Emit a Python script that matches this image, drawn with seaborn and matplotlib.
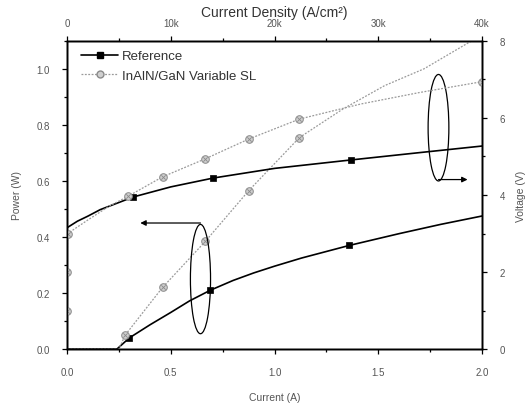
import matplotlib
matplotlib.use("Agg")
import matplotlib.pyplot as plt
import matplotlib.ticker as ticker
from matplotlib.patches import Ellipse
from matplotlib.lines import Line2D
import seaborn as sns

# Reference device, power (W) vs current (A)
ref_power_i = [0.0, 0.24, 0.30, 0.40, 0.50, 0.59, 0.69, 0.80, 0.90, 1.00, 1.13, 1.36, 1.60, 1.80, 2.00]
ref_power_w = [0.0, 0.0, 0.04, 0.087, 0.131, 0.172, 0.21, 0.245, 0.272, 0.296, 0.325, 0.37, 0.412, 0.445, 0.475]
ref_power_mark_i = [0.30, 0.69, 1.36]
ref_power_mark_w = [0.04, 0.21, 0.37]

# Reference device, voltage (V) vs current (A)
ref_volt_i = [0.0, 0.0, 0.05, 0.10, 0.16, 0.32, 0.50, 0.705, 1.00, 1.37, 1.70, 2.00]
ref_volt_v = [0.0, 3.15, 3.32, 3.45, 3.62, 3.95, 4.21, 4.44, 4.69, 4.91, 5.10, 5.27]
ref_volt_mark_i = [0.32, 0.705, 1.37]
ref_volt_mark_v = [3.95, 4.44, 4.91]

# InAlN/GaN variable SL, power
sl_power_i = [0.0, 0.25, 0.28, 0.46, 0.667, 0.875, 1.12, 1.33, 1.53, 1.72, 1.95]
sl_power_w = [0.0, 0.0, 0.05, 0.22, 0.385, 0.565, 0.755, 0.857, 0.94, 1.0, 1.10]
sl_power_mark_i = [0.28, 0.46, 0.667, 0.875, 1.12]
sl_power_mark_w = [0.05, 0.22, 0.385, 0.565, 0.755]

# InAlN/GaN variable SL, voltage
sl_volt_i = [0.0, 0.0, 0.0, 0.003, 0.10, 0.20, 0.295, 0.46, 0.667, 0.875, 1.12, 1.415, 1.70, 2.00]
sl_volt_v = [0.0, 0.99, 2.0, 3.0, 3.35, 3.70, 3.97, 4.47, 4.94, 5.45, 5.97, 6.36, 6.66, 6.94]
sl_volt_mark_i = [0.0, 0.0, 0.003, 0.295, 0.46, 0.667, 0.875, 1.12, 2.00]
sl_volt_mark_v = [0.99, 2.0, 3.0, 3.97, 4.47, 4.94, 5.45, 5.97, 6.94]

density_ticks = [0, 10000, 20000, 30000, 40000]

sns.set_style("ticks")
plt.rcParams["font.family"] = ["Liberation Sans", "DejaVu Sans"]
plt.rcParams.update({
    "xtick.direction": "out",
    "ytick.direction": "out",
    "xtick.major.size": 3.5,
    "ytick.major.size": 3.5,
    "xtick.minor.size": 2.0,
    "ytick.minor.size": 2.0,
    "axes.linewidth": 1.0,
})

TICK_COLOR = "#555555"
SL_LINE = "#9a9a9a"
SL_FACE = "#cfcfcf"
SL_EDGE = "#8a8a8a"

fig = plt.figure(figsize=(5.28, 4.10), dpi=100)
ax = fig.add_axes([0.127, 0.146, 0.786, 0.752])
ax2 = ax.twinx()
ax3 = ax.twiny()


def draw_series(axis, xs, ys, mx, my, ref):
    if ref:
        sns.lineplot(x=xs, y=ys, ax=axis, color="black", linewidth=1.2,
                     sort=False, estimator=None)
        sns.scatterplot(x=mx, y=my, ax=axis, marker="s", color="black",
                        s=24, edgecolor="black", linewidth=0.5, zorder=4)
    else:
        sns.lineplot(x=xs, y=ys, ax=axis, color=SL_LINE, linewidth=0.9,
                     linestyle=(0, (1.5, 1.2)), sort=False, estimator=None)
        sns.scatterplot(x=mx, y=my, ax=axis, marker="o", color=SL_FACE,
                        s=30, edgecolor=SL_EDGE, linewidth=0.7, zorder=4)
        sns.scatterplot(x=mx, y=my, ax=axis, marker="x", color=SL_EDGE,
                        s=10, linewidth=0.6, zorder=5)


draw_series(ax, ref_power_i, ref_power_w, ref_power_mark_i, ref_power_mark_w, True)
draw_series(ax, sl_power_i, sl_power_w, sl_power_mark_i, sl_power_mark_w, False)
draw_series(ax2, ref_volt_i, ref_volt_v, ref_volt_mark_i, ref_volt_mark_v, True)
draw_series(ax2, sl_volt_i, sl_volt_v, sl_volt_mark_i, sl_volt_mark_v, False)

ax.set_xlim(0, 2.0)
ax.set_ylim(0, 1.1)
ax2.set_ylim(0, 8)
ax3.set_xlim(0, 40000)

ax.xaxis.set_major_locator(ticker.MultipleLocator(0.5))
ax.xaxis.set_minor_locator(ticker.MultipleLocator(0.25))
ax.yaxis.set_major_locator(ticker.MultipleLocator(0.2))
ax.yaxis.set_minor_locator(ticker.MultipleLocator(0.1))
ax.xaxis.set_major_formatter(ticker.FormatStrFormatter("%.1f"))
ax.yaxis.set_major_formatter(ticker.FormatStrFormatter("%.1f"))
ax2.yaxis.set_major_locator(ticker.MultipleLocator(2))
ax2.yaxis.set_minor_locator(ticker.MultipleLocator(1))
ax3.set_xticks(density_ticks)
ax3.xaxis.set_minor_locator(ticker.MultipleLocator(5000))
ax3.xaxis.set_major_formatter(
    ticker.FuncFormatter(lambda v, p: "0" if v == 0 else f"{int(v / 1000)}k"))

for a in (ax, ax2, ax3):
    a.tick_params(which="both", labelsize=7, labelcolor=TICK_COLOR,
                  color="black", width=0.9)
    for s in a.spines.values():
        s.set_visible(True)
        s.set_color("black")
ax.tick_params(axis="x", which="major", pad=9.5)
ax.tick_params(axis="y", which="major", pad=9)
ax2.tick_params(axis="y", which="major", pad=9)
ax3.tick_params(axis="x", which="major", pad=6)

ax.set_xlabel("Current (A)", fontsize=7.5, color="#555555", labelpad=11)
ax.set_ylabel("Power (W)", fontsize=7.5, color="#555555", labelpad=10)
ax2.set_ylabel("Voltage (V)", fontsize=7.5, color="#555555", labelpad=8)
ax3.set_xlabel("Current Density (A/cm²)", fontsize=10, color="#333333",
               labelpad=1.5)

# grouping ellipses with arrows pointing to the matching axis
ax.add_patch(Ellipse((0.643, 0.25), 0.097, 0.39, fill=False,
                     edgecolor="black", linewidth=0.9, zorder=6))
ax.annotate("", xy=(0.353, 0.45), xytext=(0.643, 0.45),
            arrowprops=dict(arrowstyle="-|>", color="black", lw=0.9,
                            mutation_scale=8, shrinkA=0, shrinkB=0))
ax.add_patch(Ellipse((1.79, 0.79), 0.10, 0.38, fill=False,
                     edgecolor="black", linewidth=0.9, zorder=6))
ax.annotate("", xy=(1.93, 0.605), xytext=(1.79, 0.605),
            arrowprops=dict(arrowstyle="-|>", color="black", lw=0.9,
                            mutation_scale=8, shrinkA=0, shrinkB=0))

handles = [
    Line2D([], [], color="black", lw=1.2, marker="s", ms=5),
    Line2D([], [], color=SL_LINE, lw=0.9, ls=(0, (1.5, 1.2)), marker="o",
           ms=5, mfc=SL_FACE, mec=SL_EDGE),
]
ax.legend(handles, ["Reference", "InAlN/GaN Variable SL"], loc="upper left",
          bbox_to_anchor=(0.012, 1.0), frameon=False, fontsize=9.5,
          handlelength=2.8, handletextpad=0.3, labelspacing=0.55,
          borderaxespad=0.3, labelcolor="#333333")

fig.savefig("out.png", dpi=100)
